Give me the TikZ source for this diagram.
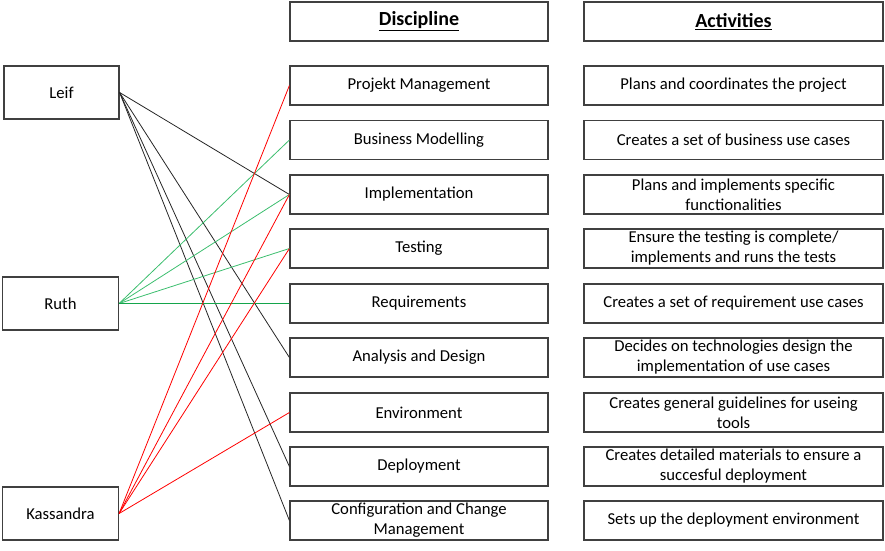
\documentclass[tikz,border=0pt]{standalone}
\usepackage{fontspec}
\setmainfont{Carlito}
\definecolor{gline}{RGB}{60,190,110}
\definecolor{gline2}{RGB}{20,165,75}
\begin{document}
\begin{tikzpicture}[x=0.75pt,y=-0.75pt,
  box/.style={draw=black!75, line width=0.9pt, inner sep=0pt, align=center, font=\fontsize{12.5}{15}\selectfont},
  disc/.style={box, minimum width=258*0.75pt, minimum height=39*0.75pt},
  act/.style={box, minimum width=299*0.75pt, minimum height=39*0.75pt},
  person/.style={box, minimum width=116*0.75pt, minimum height=53*0.75pt},
  hdr/.style={font=\fontsize{15}{18}\selectfont\bfseries},
  lk/.style={line width=0.6pt, black!85},
  lg/.style={line width=0.6pt, gline},
  lg2/.style={line width=0.7pt, gline2},
  lr/.style={line width=0.6pt, red}]
\useasboundingbox (0,0) rectangle (885,550);
% headers
\node[disc, hdr] (hd) at (419,21.5) {\underline{Discipline}};
\node[act, hdr] (ha) at (733.5,21.5) {\underline{Activities}};
% persons
\node[person, minimum width=115*0.75pt] (leif) at (61.5,92.5) {Leif};
\node[person] (ruth) at (60.5,303.5) {Ruth};
\node[person] (kas) at (60.5,513.5) {Kassandra};
% disciplines
\node[disc] (d1) at (419,85.5) {Projekt Management};
\node[disc] (d2) at (419,140) {Business Modelling};
\node[disc] (d3) at (419,194.5) {Implementation};
\node[disc] (d4) at (419,248.5) {Testing};
\node[disc] (d5) at (419,303.5) {Requirements};
\node[disc] (d6) at (419,357.5) {Analysis and Design};
\node[disc] (d7) at (419,412.5) {Environment};
\node[disc] (d8) at (419,466.5) {Deployment};
\node[disc] (d9) at (419,520.5) {Configuration and Change\\Management};
% activities
\node[act] (a1) at (733.5,85.5) {Plans and coordinates the project};
\node[act] (a2) at (733.5,140) {Creates a set of business use cases};
\node[act] (a3) at (733.5,194.5) {Plans and implements specific\\functionalities};
\node[act] (a4) at (733.5,248.5) {Ensure the testing is complete/\\implements and runs the tests};
\node[act] (a5) at (733.5,303.5) {Creates a set of requirement use cases};
\node[act] (a6) at (733.5,357.5) {Decides on technologies design the\\implementation of use cases};
\node[act] (a7) at (733.5,412.5) {Creates general guidelines for useing\\tools};
\node[act] (a8) at (733.5,466.5) {Creates detailed materials to ensure a\\succesful deployment};
\node[act] (a9) at (733.5,520.5) {Sets up the deployment environment};
% Leif
\foreach \d in {d3,d6,d8,d9} \draw[lk] (leif.east) -- (\d.west);
% Ruth
\foreach \d in {d2,d3,d4} \draw[lg] (ruth.east) -- (\d.west);
\draw[lg2] (ruth.east) -- (d5.west);
% Kassandra
\foreach \d in {d1,d3,d4,d7} \draw[lr] (kas.east) -- (\d.west);
\end{tikzpicture}
\end{document}
